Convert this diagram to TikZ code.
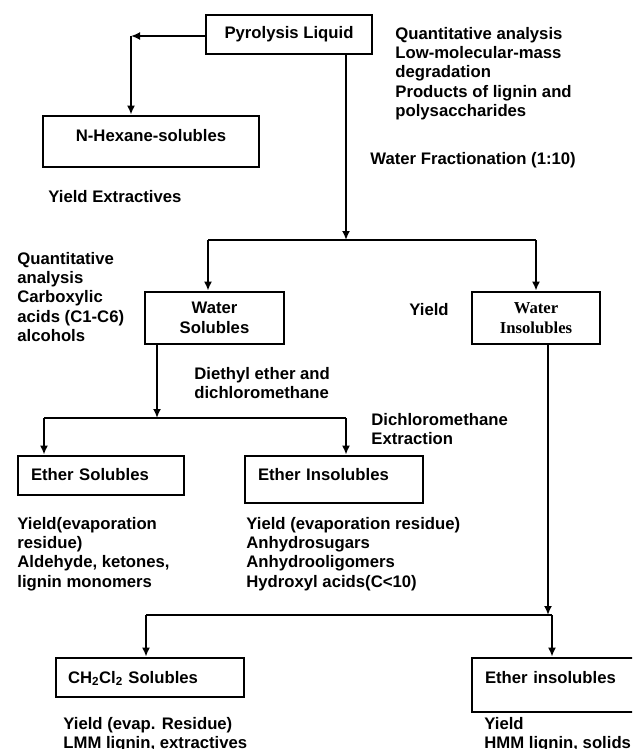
\documentclass[tikz,border=0pt]{standalone}
\usepackage{fontspec}
\setmainfont{Liberation Sans}
\newfontfamily\timesfont{Liberation Serif}
\usetikzlibrary{arrows.meta}

\begin{document}
\begin{tikzpicture}
[x=1pt, y=-1pt, line width=2.8pt,
every node/.style={font=\bfseries\fontsize{16.7}{19.4}\selectfont, inner sep=0pt},
stage/.style={draw, line width=2.8pt},
note/.style={anchor=north west, align=left},
flow/.style={-{Latex[length=9pt,width=8pt]}}]

\clip (0,0) rectangle (632,749);

\node[stage, minimum width=166pt, minimum height=39pt] (pyro) at (289,34.5) {Pyrolysis Liquid};
\node[stage, minimum width=216pt, minimum height=51pt, text height=25pt, text depth=26pt] (hex) at (151,141.5) {N-Hexane-solubles};
\node[stage, minimum width=139pt, minimum height=52pt, align=center] (ws) at (214.5,318) {Water\\Solubles};
\node[stage, minimum width=128pt, minimum height=52pt, align=center, font=\timesfont\bfseries\fontsize{16.7}{19.4}\selectfont] (wi) at (536,318) {Water\\Insolubles};
\node[stage, minimum width=166pt, minimum height=39pt, text width=140pt, align=left, text height=24pt, text depth=15pt] (es) at (101,475.5) {Ether Solubles};
\node[stage, minimum width=178pt, minimum height=47pt, text width=152pt, align=left, text height=24pt, text depth=23pt] (ei) at (334,479.5) {Ether Insolubles};
\node[stage, minimum width=188pt, minimum height=39pt, text width=164pt, align=left, text height=25pt, text depth=14pt] (cs) at (150,677.5) {CH\textsubscript{2}Cl\textsubscript{2} Solubles};
\node[stage, minimum width=188pt, minimum height=54pt, text width=162pt, align=left, text height=25pt, text depth=29pt] (eb) at (566,685) {Ether insolubles};

\node[note] (pyronote) at (394,25.5) {Quantitative analysis\\Low-molecular-mass\\degradation\\Products of lignin and\\polysaccharides};
\node[note] (fracnote) at (369,150.5) {Water Fractionation (1:10)};
\node[note] (hexnote) at (47,188.5) {Yield Extractives};
\node[note] (wsnote) at (16,250.5) {Quantitative\\analysis\\Carboxylic\\acids (C1-C6)\\alcohols};
\node[note] (winote) at (408,301.5) {Yield};
\node[note] (solvnote) at (193,365.5) {Diethyl ether and\\dichloromethane};
\node[note] (extnote) at (370,411.5) {Dichloromethane\\Extraction};
\node[note] (esnote) at (16,515.5) {Yield(evaporation\\residue)\\Aldehyde, ketones,\\lignin monomers};
\node[note] (einote) at (245,515.5) {Yield (evaporation residue)\\Anhydrosugars\\Anhydrooligomers\\Hydroxyl acids(C<10)};
\node[note] (csnote) at (62,715.5) {Yield (evap. Residue)\\LMM lignin, extractives};
\node[note] (ebnote) at (483,715.5) {Yield\\HMM lignin, solids};

\coordinate (hexturn) at (131,36);
\coordinate (split1) at (346,240);
\coordinate (wsdrop) at (208,240);
\coordinate (widrop) at (536,240);
\coordinate (split2) at (157,418);
\coordinate (esdrop) at (44,418);
\coordinate (eidrop) at (346,418);
\coordinate (split3) at (548,615);
\coordinate (csdrop) at (146,615);
\coordinate (ebdrop) at (552,615);

\draw[flow] (pyro.west |- hexturn) -- (hexturn);
\draw[flow] (hexturn) -- (hexturn |- hex.north);
\draw[flow] (split1 |- pyro.south) -- (split1);
\draw (wsdrop) -- (widrop);
\draw[flow] (wsdrop) -- (wsdrop |- ws.north);
\draw[flow] (widrop) -- (widrop |- wi.north);
\draw[flow] (split2 |- ws.south) -- (split2);
\draw (esdrop) -- (eidrop);
\draw[flow] (esdrop) -- (esdrop |- es.north);
\draw[flow] (eidrop) -- (eidrop |- ei.north);
\draw[flow] (split3 |- wi.south) -- (split3);
\draw (csdrop) -- (ebdrop);
\draw[flow] (csdrop) -- (csdrop |- cs.north);
\draw[flow] (ebdrop) -- (ebdrop |- eb.north);
\end{tikzpicture}
\end{document}
